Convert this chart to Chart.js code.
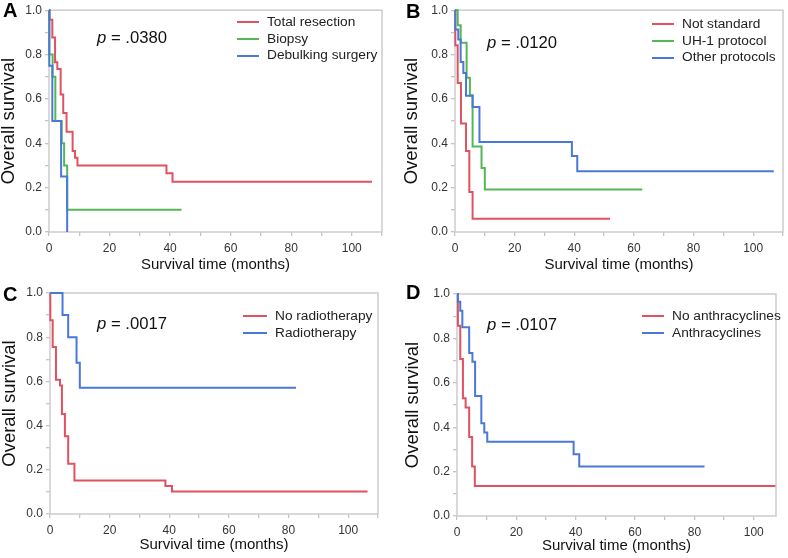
<!DOCTYPE html>
<html>
<head>
<meta charset="utf-8">
<script src="https://cdn.jsdelivr.net/npm/chart.js@4.4.0/dist/chart.umd.min.js"></script>
<style>
body { margin: 0; background: #fff; }
#wrap { position: relative; width: 788px; height: 558px; font-family: "Liberation Sans", Arial, sans-serif; }
.panel { position: absolute; width: 394px; height: 279px; }
.panel canvas { position: absolute; left: 0; top: 0; }
.letter { position: absolute; font-weight: bold; font-size: 20px; line-height: 1; color: #000; }
.pval { position: absolute; font-size: 16.7px; line-height: 1; color: #111; white-space: nowrap; }
.legend { position: absolute; font-size: 13.7px; color: #222; }
.legend div { white-space: nowrap; height: 16.7px; line-height: 16.7px; }
.legend .sw { display: inline-block; height: 2px; vertical-align: middle; margin-right: 8px; }
</style>
</head>
<body>
<div id="wrap">
  <div class="panel" id="pA" style="left:0;top:0"><canvas id="chartA" width="394" height="279"></canvas></div>
  <div class="panel" id="pB" style="left:394px;top:0"><canvas id="chartB" width="394" height="279"></canvas></div>
  <div class="panel" id="pC" style="left:0;top:279px"><canvas id="chartC" width="394" height="279"></canvas></div>
  <div class="panel" id="pD" style="left:394px;top:279px"><canvas id="chartD" width="394" height="279"></canvas></div>
</div>
<script>
// Kaplan-Meier steps: months / survival at each step
// A - extent of surgery
const aTotalMonths  = [0, 0.2, 1.1, 2.0, 2.75, 3.85, 4.7, 5.8, 7.8, 8.6, 9.4, 38.8, 40.8, 106.7];
const aTotalSurv    = [1, 0.957, 0.877, 0.765, 0.735, 0.62, 0.537, 0.452, 0.365, 0.335, 0.30, 0.265, 0.227, 0.227];
const aBiopsyMonths = [0, 0.1, 1.2, 2.1, 4.2, 5.0, 6.0, 43.8];
const aBiopsySurv   = [1, 0.8, 0.7, 0.5, 0.4, 0.3, 0.1, 0.1];
const aDebulkMonths = [0, 0.1, 1.1, 4.0, 6.0];
const aDebulkSurv   = [1, 0.75, 0.5, 0.25, 0];

// B - chemotherapy protocol
const bNotStdMonths = [0, 0.1, 0.9, 2.0, 3.7, 4.8, 5.9, 52];
const bNotStdSurv   = [1, 0.842, 0.672, 0.489, 0.365, 0.18, 0.06, 0.06];
const bUh1Months    = [0, 0.9, 1.9, 3.9, 5.0, 5.9, 8.9, 10.0, 62.8];
const bUh1Surv      = [1, 0.932, 0.853, 0.696, 0.617, 0.386, 0.289, 0.192, 0.192];
const bOtherMonths  = [0, 0.1, 1.1, 1.9, 2.8, 3.7, 5.9, 8.2, 39.2, 41.0, 106.9];
const bOtherSurv    = [1, 0.913, 0.868, 0.767, 0.717, 0.614, 0.564, 0.406, 0.343, 0.274, 0.274];

// C - radiotherapy
const cNoRtMonths = [0, 0.1, 0.9, 2.0, 3.35, 4.0, 5.0, 6.1, 8.2, 38.7, 40.9, 106.5];
const cNoRtSurv   = [1, 0.877, 0.756, 0.607, 0.581, 0.453, 0.352, 0.227, 0.152, 0.127, 0.102, 0.102];
const cRtMonths   = [0, 4.2, 6.1, 8.9, 10.0, 82.5];
const cRtSurv     = [1, 0.9, 0.8, 0.684, 0.571, 0.571];

// D - anthracyclines
const dNoAnthMonths = [0, 0.3, 1.1, 2.0, 2.9, 4.1, 5.1, 6.0, 107.3];
const dNoAnthSurv   = [1, 0.857, 0.707, 0.53, 0.489, 0.356, 0.223, 0.135, 0.135];
const dAnthMonths   = [0, 0.3, 1.1, 1.8, 4.1, 5.2, 6.1, 8.2, 9.2, 10.2, 39.3, 41.2, 83.4];
const dAnthSurv     = [1, 0.965, 0.925, 0.85, 0.734, 0.695, 0.541, 0.418, 0.376, 0.334, 0.278, 0.223, 0.223];

const xTickValues = [0, 20, 40, 60, 80, 100];
const yTickValues = [0, 0.2, 0.4, 0.6, 0.8, 1.0];
const pValues = ['.0380', '.0120', '.0017', '.0107'];
const panelLetters = ['A', 'B', 'C', 'D'];

const RED = '#e0525f';
const GREEN = '#55b655';
const BLUE = '#4a78d8';

function toPoints(months, surv) {
    return months.map((m, i) => ({ x: m, y: surv[i] }));
}

// draws the light grey box round the plot area
const framePlugin = {
    id: 'frame',
    beforeDatasetsDraw(chart) {
        const { ctx, chartArea: a } = chart;
        ctx.save();
        ctx.strokeStyle = '#cdcdcd';
        ctx.lineWidth = 1.5;
        ctx.strokeRect(a.left, a.top, a.right - a.left, a.bottom - a.top);
        ctx.restore();
    }
};

function makePanel(canvasId, box, series) {
    const datasets = series.map((s, i) => ({
        label: s.label,
        data: toPoints(s.months, s.surv),
        borderColor: s.color,
        borderWidth: 2,
        pointRadius: 0,
        stepped: true,
        fill: false,
        clip: 4,
        order: series.length - i
    }));

    new Chart(document.getElementById(canvasId), {
        type: 'line',
        data: { datasets: datasets },
        options: {
            responsive: false,
            animation: false,
            devicePixelRatio: 1,
            layout: { padding: { top: box.top, right: 394 - box.right, left: 0, bottom: 0 } },
            plugins: { legend: { display: false }, tooltip: { enabled: false } },
            scales: {
                x: {
                    type: 'linear',
                    min: 0,
                    max: box.xMax,
                    afterFit: s => { s.height = 279 - box.bottom; },
                    border: { display: false },
                    grid: { drawOnChartArea: false, drawTicks: true, tickLength: 4, color: '#c4c4c4', lineWidth: 1.3 },
                    ticks: {
                        stepSize: 10,
                        includeBounds: false,
                        autoSkip: false,
                        maxRotation: 0,
                        padding: 5,
                        color: '#333',
                        font: { family: '"Liberation Sans", Arial, sans-serif', size: 12 },
                        callback: v => xTickValues.includes(v) ? String(v) : ''
                    },
                    title: {
                        display: true,
                        text: 'Survival time (months)',
                        color: '#111',
                        font: { family: '"Liberation Sans", Arial, sans-serif', size: 15, lineHeight: 1 },
                        padding: { top: 0, bottom: box.xTitlePad }
                    }
                },
                y: {
                    type: 'linear',
                    min: 0,
                    max: 1,
                    afterFit: s => { s.width = box.left; },
                    border: { display: false },
                    grid: { drawOnChartArea: false, drawTicks: true, tickLength: 4, color: '#c4c4c4', lineWidth: 1.3 },
                    ticks: {
                        stepSize: 0.1,
                        autoSkip: false,
                        padding: 3,
                        color: '#333',
                        font: { family: '"Liberation Sans", Arial, sans-serif', size: 12 },
                        callback: v => {
                            const r = Math.round(v * 10) / 10;
                            return yTickValues.some(t => Math.abs(t - r) < 1e-6) ? r.toFixed(1) : '';
                        }
                    },
                    title: {
                        display: true,
                        text: 'Overall survival',
                        color: '#111',
                        font: { family: '"Liberation Sans", Arial, sans-serif', size: 18.5, lineHeight: 1 },
                        padding: { top: box.yTitlePad, bottom: 0 }
                    }
                }
            }
        },
        plugins: [framePlugin]
    });
}

function addLabels(panelId, idx, letterPos, pPos, legendPos, series) {
    const panel = document.getElementById(panelId);

    const letter = document.createElement('div');
    letter.className = 'letter';
    letter.style.left = letterPos[0] + 'px';
    letter.style.top = letterPos[1] + 'px';
    letter.textContent = panelLetters[idx];
    panel.appendChild(letter);

    const p = document.createElement('div');
    p.className = 'pval';
    p.style.left = pPos[0] + 'px';
    p.style.top = pPos[1] + 'px';
    p.innerHTML = '<i>p</i> = ' + pValues[idx];
    panel.appendChild(p);

    const leg = document.createElement('div');
    leg.className = 'legend';
    leg.style.left = legendPos[0] + 'px';
    leg.style.top = legendPos[1] + 'px';
    series.forEach(s => {
        const row = document.createElement('div');
        row.innerHTML = '<span class="sw" style="width:' + legendPos[2] + 'px;background:' + s.color + '"></span>' + s.label;
        leg.appendChild(row);
    });
    panel.appendChild(leg);
}

const seriesA = [
    { label: 'Total resection', months: aTotalMonths, surv: aTotalSurv, color: RED },
    { label: 'Biopsy', months: aBiopsyMonths, surv: aBiopsySurv, color: GREEN },
    { label: 'Debulking surgery', months: aDebulkMonths, surv: aDebulkSurv, color: BLUE }
];
const seriesB = [
    { label: 'Not standard', months: bNotStdMonths, surv: bNotStdSurv, color: RED },
    { label: 'UH-1 protocol', months: bUh1Months, surv: bUh1Surv, color: GREEN },
    { label: 'Other protocols', months: bOtherMonths, surv: bOtherSurv, color: BLUE }
];
const seriesC = [
    { label: 'No radiotherapy', months: cNoRtMonths, surv: cNoRtSurv, color: RED },
    { label: 'Radiotherapy', months: cRtMonths, surv: cRtSurv, color: BLUE }
];
const seriesD = [
    { label: 'No anthracyclines', months: dNoAnthMonths, surv: dNoAnthSurv, color: RED },
    { label: 'Anthracyclines', months: dAnthMonths, surv: dAnthSurv, color: BLUE }
];

makePanel('chartA', { left: 49, right: 382, top: 9, bottom: 232, xMax: 110, xTitlePad: 6.5, yTitlePad: 0 }, seriesA);
makePanel('chartB', { left: 61, right: 392, top: 10, bottom: 232, xMax: 110, xTitlePad: 6.5, yTitlePad: 9 }, seriesB);
makePanel('chartC', { left: 50, right: 378, top: 14, bottom: 235, xMax: 110, xTitlePad: 5.5, yTitlePad: 1 }, seriesC);
makePanel('chartD', { left: 63, right: 382, top: 15, bottom: 237, xMax: 107.5, xTitlePad: 4.5, yTitlePad: 10 }, seriesD);

addLabels('pA', 0, [3, 0], [97, 30], [237, 14, 22], seriesA);
addLabels('pB', 1, [12, 1], [93, 35], [258, 16, 22], seriesB);
addLabels('pC', 2, [3, 5], [97, 37], [243, 29, 24], seriesC);
addLabels('pD', 3, [12, 3], [93, 38], [248, 29, 22], seriesD);
</script>
</body>
</html>
